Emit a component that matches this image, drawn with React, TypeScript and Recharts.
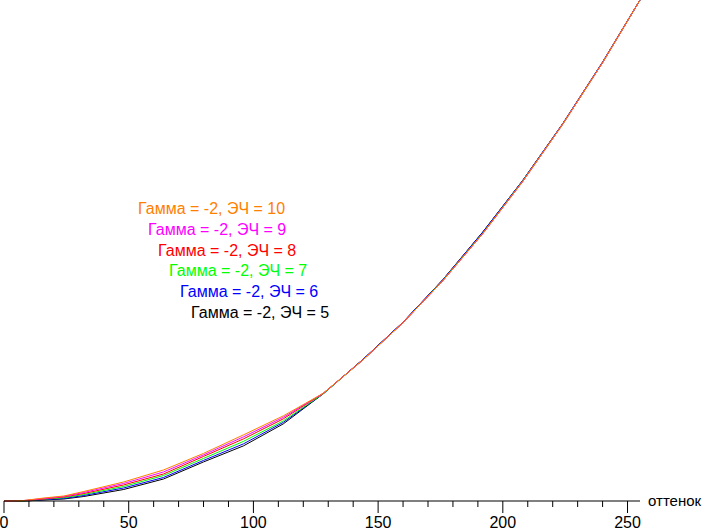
import React from 'react';
import { LineChart, Line, XAxis, YAxis } from 'recharts';

const hues = [0, 8, 16, 24, 32, 48, 64, 80, 96, 112, 128, 144, 160, 176, 192, 208, 224, 240, 255];

const ech10 = [0, 0.1, 0.6, 1.0, 1.9, 3.8, 6.2, 9.5, 13.2, 17.0, 21.5, 28.2, 35.6, 44.0, 53.4, 63.8, 75.2, 87.5, 100];
const ech9 = [0, 0.1, 0.5, 0.9, 1.7, 3.5, 5.8, 9.2, 12.8, 16.7, 21.5, 28.2, 35.6, 44.0, 53.4, 63.8, 75.2, 87.5, 100];
const ech8 = [0, 0.05, 0.4, 0.8, 1.5, 3.2, 5.4, 8.9, 12.4, 16.4, 21.5, 28.2, 35.6, 44.0, 53.4, 63.8, 75.2, 87.5, 100];
const ech7 = [0, 0, 0.35, 0.65, 1.3, 2.9, 5.1, 8.5, 11.9, 16.0, 21.4, 28.2, 35.6, 44.1, 53.5, 63.9, 75.2, 87.5, 100];
const ech6 = [0, 0, 0.25, 0.5, 1.1, 2.6, 4.7, 8.1, 11.4, 15.7, 21.4, 28.3, 35.7, 44.2, 53.7, 64.0, 75.3, 87.6, 100];
const ech5 = [0, 0, 0.2, 0.4, 0.9, 2.3, 4.4, 7.8, 11.0, 15.4, 21.4, 28.3, 35.7, 44.2, 53.7, 64.0, 75.3, 87.6, 100];

const majorTicks = [0, 50, 100, 150, 200, 250];
const allTicks = [0, 10, 20, 30, 40, 50, 60, 70, 80, 90, 100, 110, 120, 130, 140, 150, 160, 170, 180, 190, 200, 210, 220, 230, 240, 250];

const seriesNames = ['ЭЧ = 5', 'ЭЧ = 6', 'ЭЧ = 7', 'ЭЧ = 8', 'ЭЧ = 9', 'ЭЧ = 10'];
const seriesKeys = ['e5', 'e6', 'e7', 'e8', 'e9', 'e10'];
const seriesColors = ['#000000', '#0000ff', '#00ff00', '#ff0000', '#ff00ff', '#ff8000'];
const legendLabels = [
  'Гамма = -2, ЭЧ = 10',
  'Гамма = -2, ЭЧ = 9',
  'Гамма = -2, ЭЧ = 8',
  'Гамма = -2, ЭЧ = 7',
  'Гамма = -2, ЭЧ = 6',
  'Гамма = -2, ЭЧ = 5',
];
const legendColors = ['#ff8000', '#ff00ff', '#ff0000', '#00ff00', '#0000ff', '#000000'];
const legendLeft = [138, 148, 158, 169, 180, 191];

const seriesValues = [ech5, ech6, ech7, ech8, ech9, ech10];
const data = hues.map((h, i) => {
  const row: any = { hue: h };
  seriesKeys.forEach((k, s) => {
    row[k] = seriesValues[s][i];
  });
  return row;
});

const FONT = 'Arial, "Liberation Sans", sans-serif';
const TICK_SIZE = 8;
const TICK_MARGIN = 0;

const AxisTick = (props: any) => {
  const { x, y, payload } = props;
  const axisY = y - TICK_SIZE - TICK_MARGIN;
  const major = majorTicks.includes(payload.value);
  return (
    <g>
      <line x1={x} x2={x} y1={axisY} y2={axisY + (major ? 12 : 6)} stroke="#000" strokeWidth={1} />
      {major && (
        <text x={x} y={axisY + 26.5} textAnchor="middle" fontSize={16} fontFamily={FONT} fill="#000">
          {payload.value}
        </text>
      )}
    </g>
  );
};

const AxisName = (props: any) => {
  const vb = props.viewBox || {};
  return (
    <text x={vb.x + vb.width + 8} y={vb.y + 5} fontSize={15} fontFamily={FONT} fill="#000">
      оттенок
    </text>
  );
};

export default function App() {
  return (
    <div style={{ position: 'fixed', left: 0, top: 0, width: 704, height: 529, background: '#fff' }}>
      <LineChart width={704} height={529} data={data} margin={{ top: 0, right: 64, left: 4, bottom: 0 }}>
        <XAxis
          dataKey="hue"
          type="number"
          domain={[0, 255]}
          ticks={allTicks}
          interval={0}
          tick={<AxisTick />}
          tickLine={false}
          tickSize={TICK_SIZE}
          tickMargin={TICK_MARGIN}
          height={28}
          stroke="#000"
          axisLine={{ stroke: '#000', strokeWidth: 1 }}
          label={<AxisName />}
        />
        <YAxis hide domain={[0, 100]} />
        {seriesKeys.map((k, s) => (
          <Line
            key={k}
            name={seriesNames[s]}
            dataKey={k}
            type="linear"
            stroke={seriesColors[s]}
            strokeWidth={1}
            dot={false}
            isAnimationActive={false}
          />
        ))}
      </LineChart>
      {legendLabels.map((t, i) => (
        <div
          key={t}
          style={{
            position: 'absolute',
            left: legendLeft[i],
            top: 200 + i * 20.8,
            fontFamily: FONT,
            fontSize: 16,
            lineHeight: '18px',
            color: legendColors[i],
            whiteSpace: 'nowrap',
          }}
        >
          {t}
        </div>
      ))}
    </div>
  );
}
